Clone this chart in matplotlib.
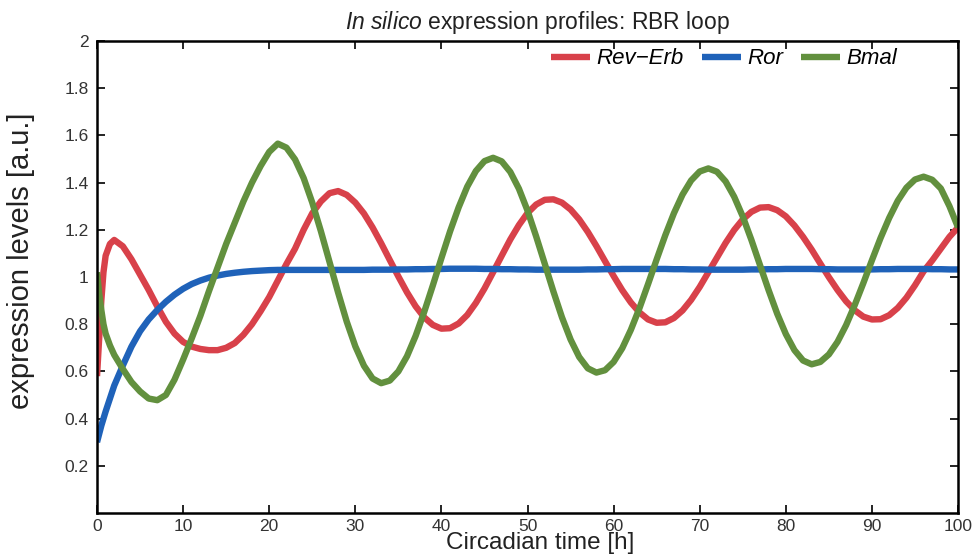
import matplotlib
matplotlib.use("Agg")
import matplotlib.pyplot as plt

# time points [h]
t = [0, 0.25, 0.5, 0.75, 1, 1.5, 2] + list(range(3, 101))

rev_erb = [0.58, 0.74, 0.90, 1.02, 1.09, 1.14, 1.157,
           1.13, 1.075, 1.01, 0.945, 0.875, 0.81, 0.76, 0.725, 0.705, 0.695,
           0.69, 0.69, 0.70, 0.72, 0.755, 0.80, 0.855, 0.915, 0.985, 1.055,
           1.12, 1.20, 1.27, 1.32, 1.355, 1.364, 1.348, 1.315, 1.269, 1.210,
           1.143, 1.072, 1.002, 0.935, 0.876, 0.829, 0.797, 0.781, 0.783, 0.803,
           0.839, 0.890, 0.951, 1.020, 1.090, 1.159, 1.220, 1.271, 1.307, 1.327,
           1.329, 1.315, 1.286, 1.244, 1.191, 1.131, 1.067, 1.004, 0.944, 0.892,
           0.850, 0.820, 0.806, 0.808, 0.826, 0.858, 0.903, 0.958, 1.020, 1.082,
           1.144, 1.199, 1.244, 1.276, 1.294, 1.296, 1.283, 1.257, 1.218, 1.170,
           1.116, 1.057, 0.999, 0.945, 0.897, 0.859, 0.832, 0.820, 0.821, 0.838,
           0.869, 0.912, 0.965, 1.024, 1.07, 1.12, 1.17, 1.21]

ror = [0.30, 0.335, 0.37, 0.40, 0.43, 0.485, 0.54,
       0.625, 0.705, 0.77, 0.82, 0.86, 0.895, 0.925, 0.95, 0.97, 0.985,
       0.997, 1.006, 1.013, 1.018, 1.022, 1.025, 1.027, 1.029, 1.030, 1.030,
       1.030, 1.030, 1.030, 1.030, 1.030, 1.030, 1.030, 1.030, 1.030, 1.031,
       1.031, 1.031, 1.032, 1.032, 1.033, 1.033, 1.034, 1.034, 1.035, 1.035,
       1.035, 1.035, 1.034, 1.034, 1.033, 1.033, 1.032, 1.032, 1.031, 1.031,
       1.031, 1.031, 1.031, 1.031, 1.032, 1.032, 1.033, 1.033, 1.034, 1.034,
       1.034, 1.034, 1.034, 1.034, 1.033, 1.033, 1.032, 1.032, 1.031, 1.031,
       1.031, 1.031, 1.031, 1.032, 1.032, 1.033, 1.033, 1.034, 1.034, 1.034,
       1.034, 1.033, 1.033, 1.032, 1.032, 1.032, 1.032, 1.032, 1.033, 1.033,
       1.034, 1.034, 1.034, 1.034, 1.033, 1.033, 1.032, 1.032]

bmal = [1.02, 0.93, 0.86, 0.80, 0.76, 0.71, 0.67,
        0.61, 0.555, 0.515, 0.485, 0.478, 0.50, 0.565, 0.65, 0.74, 0.835,
        0.94, 1.04, 1.14, 1.23, 1.32, 1.40, 1.47, 1.53, 1.565, 1.548,
        1.498, 1.419, 1.315, 1.194, 1.064, 0.934, 0.811, 0.706, 0.624, 0.570,
        0.550, 0.561, 0.600, 0.664, 0.750, 0.852, 0.964, 1.080, 1.193, 1.295,
        1.383, 1.449, 1.491, 1.505, 1.490, 1.445, 1.374, 1.281, 1.172, 1.056,
        0.939, 0.829, 0.735, 0.661, 0.613, 0.595, 0.605, 0.640, 0.698, 0.776,
        0.868, 0.970, 1.075, 1.177, 1.270, 1.349, 1.409, 1.447, 1.460, 1.446,
        1.405, 1.340, 1.256, 1.157, 1.050, 0.944, 0.844, 0.758, 0.690, 0.646,
        0.630, 0.640, 0.672, 0.725, 0.796, 0.881, 0.974, 1.071, 1.165, 1.250,
        1.323, 1.378, 1.413, 1.425, 1.412, 1.375, 1.30, 1.21]

labels = ["Rev\u2212Erb", "Ror", "Bmal"]
colors = ["#d8414a", "#1f62b9", "#62903e"]

plt.rcParams["font.family"] = ["Liberation Sans", "DejaVu Sans"]
plt.rcParams["mathtext.fontset"] = "custom"
plt.rcParams["mathtext.rm"] = "Liberation Sans"
plt.rcParams["mathtext.it"] = "Liberation Sans:italic"

fig = plt.figure(figsize=(9.78, 5.59), dpi=100)
ax = fig.add_axes([0.0992, 0.0823, 0.8804, 0.8444])

for y, lab, c in zip([rev_erb, ror, bmal], labels, colors):
    ax.plot(t, y, color=c, lw=4.6, label=lab, solid_capstyle="butt")

ax.set_xlim(0, 100)
ax.set_ylim(0, 2)
ax.set_xticks(range(0, 101, 10))
ax.set_yticks([0.2, 0.4, 0.6, 0.8, 1.0, 1.2, 1.4, 1.6, 1.8, 2.0])
ax.set_yticklabels(["0.2", "0.4", "0.6", "0.8", "1", "1.2", "1.4", "1.6", "1.8", "2"])
ax.tick_params(direction="in", length=6, width=1.2, top=True, right=True,
               labelsize=12.5, labelcolor="#333333", pad=6)
ax.tick_params(axis="x", pad=4)
for s in ax.spines.values():
    s.set_linewidth(1.8)

ax.set_xlabel("Circadian time [h]", fontsize=17.5, color="#222222")
ax.xaxis.set_label_coords(0.515, -0.041)
ax.set_ylabel("expression levels [a.u.]", fontsize=21, color="#222222")
ax.yaxis.set_label_coords(-0.072, 0.534)
ax.set_title(r"$\mathit{In\ silico}$ expression profiles: RBR loop", fontsize=16.5,
             color="#222222", pad=8.6, x=0.511)

ax.legend(loc="center right", bbox_to_anchor=(0.9396, 0.962), ncol=3,
          frameon=False, handlelength=1.75, columnspacing=0.8,
          handletextpad=0.3, borderaxespad=0,
          prop={"style": "italic", "size": 16})

fig.savefig("out.png", dpi=100)
